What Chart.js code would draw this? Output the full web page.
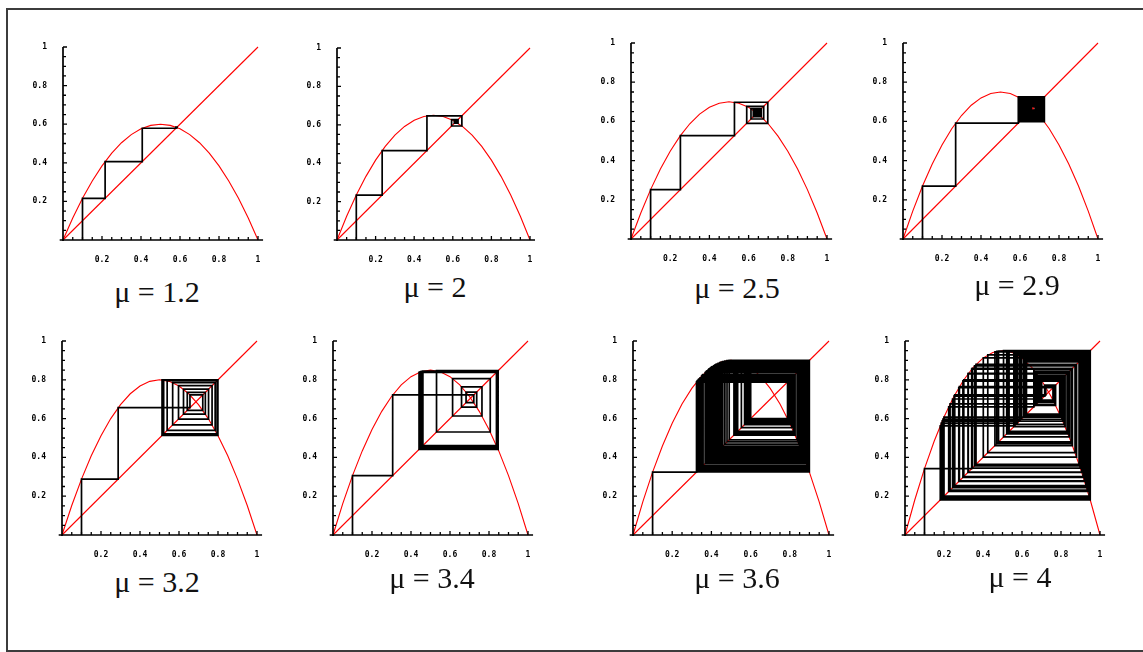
<!DOCTYPE html>
<html>
<head>
<meta charset="utf-8">
<title>Logistic map cobweb diagrams</title>
<script src="https://cdn.jsdelivr.net/npm/chart.js@4.4.0/dist/chart.umd.min.js"></script>
<style>
  html, body { margin: 0; padding: 0; background: #fff; overflow: hidden; }
  body { width: 1143px; height: 652px; position: relative; }
  .frame {
    position: absolute; left: 6px; top: 8px; width: 1135px; height: 640px;
    border: 2px solid #3c3c3c; border-right: none;
  }
  canvas { position: absolute; }
  .mu {
    position: absolute; width: 200px; text-align: center;
    font-family: "Liberation Serif", "Times New Roman", Times, "DejaVu Serif", serif;
    font-size: 30px; line-height: 30px; color: #111; white-space: pre;
  }
</style>
</head>
<body>
<div class="frame"></div>
<div id="panels"></div>
<script>
// panel captions
const muLabels = ["1.2", "2", "2.5", "2.9", "3.2", "3.4", "3.6", "4"];

// sample points of the map curve
const curveX = [0, 0.05, 0.1, 0.15, 0.2, 0.25, 0.3, 0.35, 0.4, 0.45, 0.5,
                0.55, 0.6, 0.65, 0.7, 0.75, 0.8, 0.85, 0.9, 0.95, 1];
const curve_1_2 = [0, 0.114, 0.216, 0.306, 0.384, 0.45, 0.504, 0.546, 0.576, 0.594, 0.6,
                   0.594, 0.576, 0.546, 0.504, 0.45, 0.384, 0.306, 0.216, 0.114, 0];
const curve_2   = [0, 0.1235, 0.234, 0.3315, 0.416, 0.4875, 0.546, 0.5915, 0.624, 0.6435, 0.65,
                   0.6435, 0.624, 0.5915, 0.546, 0.4875, 0.416, 0.3315, 0.234, 0.1235, 0];
const curve_2_5 = [0, 0.133, 0.252, 0.357, 0.448, 0.525, 0.588, 0.637, 0.672, 0.693, 0.7,
                   0.693, 0.672, 0.637, 0.588, 0.525, 0.448, 0.357, 0.252, 0.133, 0];
const curve_2_9 = [0, 0.1425, 0.27, 0.3825, 0.48, 0.5625, 0.63, 0.6825, 0.72, 0.7425, 0.75,
                   0.7425, 0.72, 0.6825, 0.63, 0.5625, 0.48, 0.3825, 0.27, 0.1425, 0];
const curve_3_2 = [0, 0.152, 0.288, 0.408, 0.512, 0.6, 0.672, 0.728, 0.768, 0.792, 0.8,
                   0.792, 0.768, 0.728, 0.672, 0.6, 0.512, 0.408, 0.288, 0.152, 0];
const curve_3_4 = [0, 0.1615, 0.306, 0.4335, 0.544, 0.6375, 0.714, 0.7735, 0.816, 0.8415, 0.85,
                   0.8415, 0.816, 0.7735, 0.714, 0.6375, 0.544, 0.4335, 0.306, 0.1615, 0];
const curve_3_6 = [0, 0.171, 0.324, 0.459, 0.576, 0.675, 0.756, 0.819, 0.864, 0.891, 0.9,
                   0.891, 0.864, 0.819, 0.756, 0.675, 0.576, 0.459, 0.324, 0.171, 0];
const curve_4   = [0, 0.1805, 0.342, 0.4845, 0.608, 0.7125, 0.798, 0.8645, 0.912, 0.9405, 0.95,
                   0.9405, 0.912, 0.8645, 0.798, 0.7125, 0.608, 0.4845, 0.342, 0.1805, 0];

// iterates x0, x1, x2, ... traced by the cobweb
const orbit_1_2 = [0.1, 0.216, 0.4064, 0.579, 0.585, 0.5826, 0.5836, 0.5832, 0.5834, 0.5833];
const orbit_2   = [0.1, 0.234, 0.466, 0.647, 0.5938, 0.6271, 0.608, 0.6197, 0.6128, 0.6169,
                   0.6144, 0.6159, 0.615, 0.6156, 0.6153, 0.6154];
const orbit_2_5 = [0.1, 0.252, 0.5278, 0.6978, 0.5904, 0.6771, 0.6122, 0.6648, 0.624, 0.657,
                   0.631, 0.6519, 0.6354, 0.6487, 0.6381, 0.6466, 0.6398, 0.6453, 0.6409, 0.6444,
                   0.6416, 0.6438, 0.6421, 0.6435, 0.6424, 0.6432, 0.6426, 0.6431, 0.6427, 0.643];
const orbit_2_9 = [0.1, 0.27, 0.5913, 0.725, 0.5981, 0.7211, 0.6033, 0.718, 0.6075, 0.7153,
                   0.6109, 0.7131, 0.6137, 0.7112, 0.6162, 0.7095, 0.6183, 0.708, 0.6202, 0.7066,
                   0.6219, 0.7054, 0.625, 0.7031, 0.628, 0.7008, 0.631, 0.6985, 0.634, 0.6961,
                   0.637, 0.6937, 0.64, 0.6912, 0.643, 0.6887, 0.646, 0.6861, 0.649, 0.6834,
                   0.652, 0.6807, 0.655, 0.6779, 0.658, 0.6751];
const orbit_3_2 = [0.1, 0.288, 0.6562, 0.7219, 0.6424, 0.7351, 0.6231, 0.7515, 0.5975, 0.7696,
                   0.5675, 0.7854, 0.5393, 0.7951, 0.5214, 0.7985, 0.5148, 0.7993, 0.5133, 0.7994,
                   0.5131, 0.7995, 0.513, 0.7995, 0.513, 0.7995];
const orbit_3_4 = [0.1, 0.306, 0.722, 0.6824, 0.7369, 0.6592, 0.7639, 0.6133, 0.8064, 0.5309,
                   0.8468, 0.4412, 0.8382, 0.461, 0.8448, 0.4457, 0.84, 0.457, 0.8437, 0.4483,
                   0.8409, 0.4548, 0.8431, 0.4498, 0.8414, 0.4535, 0.8427, 0.4508, 0.8418, 0.4528,
                   0.8425, 0.4513, 0.842, 0.4524, 0.8423, 0.4516, 0.8421, 0.4522];
const orbit_3_6 = [0.1, 0.324, 0.7885, 0.6004, 0.8637, 0.4238, 0.8791, 0.3827, 0.8505, 0.4578,
                   0.8936, 0.3423, 0.8105, 0.553, 0.8899, 0.3528, 0.822, 0.5268, 0.8974, 0.3314,
                   0.7977, 0.581, 0.8764, 0.39, 0.8564, 0.4427, 0.8882, 0.3576, 0.827, 0.5151,
                   0.8992, 0.3264, 0.7915, 0.5942, 0.8681, 0.4123, 0.8723, 0.4009, 0.8647, 0.4212,
                   0.8777, 0.3865, 0.8536, 0.4498, 0.8909, 0.3499, 0.8189, 0.534, 0.8958, 0.3359,
                   0.8031, 0.5693, 0.8827, 0.3727, 0.8417, 0.4797, 0.8985, 0.3283, 0.7938, 0.5892,
                   0.8714, 0.4035, 0.8665, 0.4164, 0.8749, 0.3941, 0.8597, 0.4343, 0.8845, 0.3679,
                   0.8371, 0.4908, 0.8997, 0.3249, 0.7896, 0.5981, 0.8654, 0.4195, 0.8766, 0.3893,
                   0.8559, 0.4441, 0.8887, 0.356, 0.8253, 0.5189, 0.8987, 0.3277, 0.7931, 0.5906,
                   0.8704, 0.406, 0.8682, 0.4119, 0.8721, 0.4016, 0.8652, 0.4199, 0.8769, 0.3885,
                   0.8553, 0.4456, 0.8893, 0.3543, 0.8236, 0.5231, 0.8981, 0.3295, 0.7954, 0.5859,
                   0.8734, 0.3979, 0.8625, 0.4269, 0.8808, 0.378, 0.8464, 0.468, 0.8963, 0.3346,
                   0.8015, 0.5727, 0.881, 0.3775, 0.846, 0.469, 0.8965, 0.3339, 0.8007, 0.5745,
                   0.88];
const orbit_4   = [0.1, 0.342, 0.8551, 0.4707, 0.9467, 0.1916, 0.5886, 0.9202, 0.279, 0.7645,
                   0.6842, 0.821, 0.5583, 0.9371, 0.2241, 0.6607, 0.8518, 0.4796, 0.9484, 0.1859,
                   0.5751, 0.9286, 0.252, 0.7163, 0.7722, 0.6685, 0.8421, 0.5054, 0.9499, 0.1809,
                   0.563, 0.9349, 0.2312, 0.6755, 0.833, 0.5286, 0.9469, 0.1911, 0.5874, 0.921,
                   0.2765, 0.7602, 0.6927, 0.8089, 0.587, 0.9212, 0.2757, 0.7589, 0.6954, 0.805,
                   0.5966, 0.9145, 0.297, 0.7934, 0.6229, 0.8926, 0.3642, 0.8799, 0.4015, 0.9131,
                   0.3015, 0.8003, 0.6074, 0.9062, 0.323, 0.831, 0.5337, 0.9457, 0.1952, 0.5969,
                   0.9143, 0.2978, 0.7946, 0.6201, 0.8952, 0.3566, 0.8719, 0.4245, 0.9283, 0.2528,
                   0.7178, 0.7698, 0.6734, 0.8357, 0.5216, 0.9482, 0.1866, 0.5767, 0.9276, 0.2551,
                   0.722, 0.7627, 0.6878, 0.816, 0.5706, 0.931, 0.244, 0.701, 0.7965, 0.6158,
                   0.899, 0.345, 0.8587, 0.4612, 0.9443, 0.2, 0.608, 0.9057, 0.3245, 0.833,
                   0.5286];

// y = x reference line
const diagonal = [0, 1];

const curves = [curve_1_2, curve_2, curve_2_5, curve_2_9, curve_3_2, curve_3_4, curve_3_6, curve_4];
const orbits = [orbit_1_2, orbit_2, orbit_2_5, orbit_2_9, orbit_3_2, orbit_3_4, orbit_3_6, orbit_4];

// plot square of each panel on the page: left, top, width, height of [0,1]x[0,1]
const panelBoxes = [
  [63, 47, 195, 193], [337, 48, 193, 192], [631, 43, 196, 196], [903, 43, 195, 196],
  [62, 341, 195, 194], [333, 341, 195, 194], [633, 341, 196, 194], [905, 341, 195, 194]
];
// caption centre x and baseline y
const captionPos = [
  [157, 302], [435, 297], [737, 298], [1017, 295],
  [157, 592], [432, 588], [737, 588], [1020, 587]
];

const Y_AXIS_W = 40, X_AXIS_H = 30, PAD_TOP = 10, PAD_RIGHT = 15;

// Mathematica-style frame: axes crossing at the origin, ticks pointing inward
const inwardAxes = {
  id: "inwardAxes",
  afterDatasetsDraw(chart) {
    const { ctx, scales: { x, y } } = chart;
    const x0 = x.getPixelForValue(0);
    const y0 = y.getPixelForValue(0);
    ctx.save();
    ctx.strokeStyle = "#000";
    ctx.lineWidth = 1.7;
    ctx.beginPath();
    ctx.moveTo(x.getPixelForValue(-0.017), y0);
    ctx.lineTo(x.getPixelForValue(1.026), y0);
    ctx.moveTo(x0, y.getPixelForValue(-0.005));
    ctx.lineTo(x0, y.getPixelForValue(1));
    ctx.stroke();
    ctx.lineWidth = 1.3;
    ctx.beginPath();
    for (let i = 1; i <= 20; i++) {
      const v = i * 0.05;
      const len = i % 4 === 0 ? 4 : 3;
      const px = x.getPixelForValue(v);
      ctx.moveTo(px, y0);
      ctx.lineTo(px, y0 - len);
      const py = y.getPixelForValue(v);
      ctx.moveTo(x0, py);
      ctx.lineTo(x0 + len, py);
    }
    ctx.stroke();
    ctx.restore();
  }
};

function cobwebPoints(orbit) {
  const pts = [{ x: orbit[0], y: 0 }];
  for (let i = 0; i < orbit.length - 1; i++) {
    pts.push({ x: orbit[i], y: orbit[i + 1] });
    pts.push({ x: orbit[i + 1], y: orbit[i + 1] });
  }
  return pts;
}

function tickFont() {
  return { family: "'DejaVu Sans Mono', 'Liberation Mono', monospace", size: 8, weight: "bold" };
}

const holder = document.getElementById("panels");

panelBoxes.forEach((box, i) => {
  const [left, top, w, h] = box;
  const canvas = document.createElement("canvas");
  const cw = w + Y_AXIS_W + PAD_RIGHT;
  const ch = h + PAD_TOP + X_AXIS_H;
  canvas.width = cw;
  canvas.height = ch;
  canvas.style.left = (left - Y_AXIS_W) + "px";
  canvas.style.top = (top - PAD_TOP) + "px";
  canvas.style.width = cw + "px";
  canvas.style.height = ch + "px";
  holder.appendChild(canvas);

  new Chart(canvas, {
    type: "scatter",
    data: {
      datasets: [
        {
          data: cobwebPoints(orbits[i]),
          showLine: true,
          borderColor: "#000",
          borderWidth: 1.7,
          pointRadius: 0,
          tension: 0,
          clip: false
        },
        {
          data: curveX.map((v, k) => ({ x: v, y: curves[i][k] })),
          showLine: true,
          borderColor: "#ff0000",
          borderWidth: 1.1,
          pointRadius: 0,
          tension: 0,
          clip: false
        },
        {
          data: diagonal.map(v => ({ x: v, y: v })),
          showLine: true,
          borderColor: "#ff0000",
          borderWidth: 1.1,
          pointRadius: 0,
          clip: false
        }
      ]
    },
    options: {
      responsive: false,
      animation: false,
      devicePixelRatio: 1,
      events: [],
      layout: { padding: { left: 0, top: PAD_TOP, right: PAD_RIGHT, bottom: 0 } },
      plugins: { legend: { display: false }, tooltip: { enabled: false }, title: { display: false } },
      scales: {
        x: {
          type: "linear", min: 0, max: 1,
          grid: { display: false, drawTicks: false },
          border: { display: false },
          ticks: {
            stepSize: 0.2, padding: 15, color: "#000", font: tickFont(),
            maxRotation: 0, autoSkip: false,
            callback: v => (v === 0 ? "" : String(v))
          },
          afterFit: scale => {
            scale.height = X_AXIS_H;
            scale.paddingLeft = 0;
            scale.paddingRight = 0;
          }
        },
        y: {
          type: "linear", min: 0, max: 1,
          grid: { display: false, drawTicks: false },
          border: { display: false },
          ticks: {
            stepSize: 0.2, padding: 16, color: "#000", font: tickFont(),
            autoSkip: false,
            callback: v => (v === 0 ? "" : String(v))
          },
          afterFit: scale => {
            scale.width = Y_AXIS_W;
            scale.paddingTop = 0;
            scale.paddingBottom = 0;
          }
        }
      }
    },
    plugins: [inwardAxes]
  });

  const cap = document.createElement("div");
  cap.className = "mu";
  cap.textContent = "\u03bc = " + muLabels[i];
  cap.style.left = (captionPos[i][0] - 100) + "px";
  cap.style.top = (captionPos[i][1] - 25) + "px";
  holder.appendChild(cap);
});
</script>
</body>
</html>
